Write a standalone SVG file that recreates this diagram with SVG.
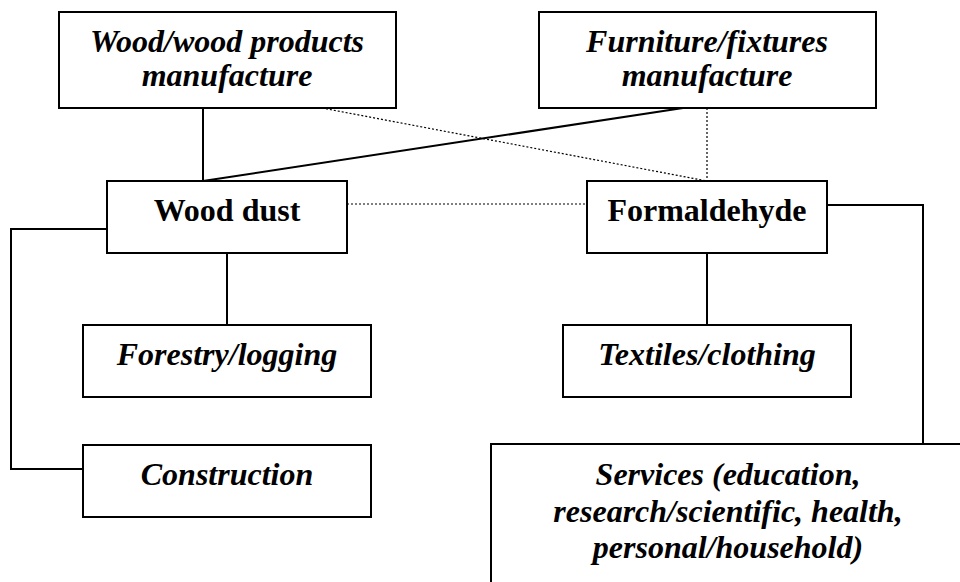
<svg xmlns="http://www.w3.org/2000/svg" width="960" height="582" viewBox="0 0 960 582">
<style>
.box{fill:#fff;stroke:#000;stroke-width:2}
.t{font-family:'Liberation Serif','Times New Roman',serif;font-size:32px;font-weight:bold;fill:#000;text-anchor:middle}
.i{font-style:italic}
.solid{fill:none;stroke:#000;stroke-width:2}
.dot{fill:none;stroke:#000;stroke-width:1.2;stroke-dasharray:2 2}
</style>
<rect width="960" height="582" fill="#fff"/>
<g id="connectors">
<line class="solid" x1="203" y1="108" x2="203" y2="181"/>
<line class="solid" x1="203" y1="181" x2="683" y2="108"/>
<line class="dot" x1="322" y1="108" x2="707" y2="181"/>
<line class="dot" x1="707" y1="108" x2="707" y2="181"/>
<line class="dot" x1="347" y1="204" x2="587" y2="204"/>
<polyline class="solid" points="827,205 923,205 923,444"/>
<polyline class="solid" points="107,229 11,229 11,469 83,469"/>
<line class="solid" x1="227" y1="253" x2="227" y2="325"/>
<line class="solid" x1="707" y1="253" x2="707" y2="325"/>
</g>
<g id="wood-products">
<rect class="box" x="59" y="12" width="337" height="96"/>
<text class="t i" x="227" y="52">Wood/wood products</text>
<text class="t i" x="227" y="86">manufacture</text>
</g>
<g id="furniture">
<rect class="box" x="539" y="12" width="337" height="96"/>
<text class="t i" x="707" y="52">Furniture/fixtures</text>
<text class="t i" x="707" y="86">manufacture</text>
</g>
<g id="wood-dust">
<rect class="box" x="107" y="181" width="240" height="72"/>
<text class="t" x="227" y="221">Wood dust</text>
</g>
<g id="formaldehyde">
<rect class="box" x="587" y="181" width="240" height="72"/>
<text class="t" x="707" y="221">Formaldehyde</text>
</g>
<g id="forestry">
<rect class="box" x="83" y="325" width="288" height="72"/>
<text class="t i" x="227" y="365">Forestry/logging</text>
</g>
<g id="textiles">
<rect class="box" x="563" y="325" width="288" height="72"/>
<text class="t i" x="707" y="365">Textiles/clothing</text>
</g>
<g id="construction">
<rect class="box" x="83" y="445" width="288" height="72"/>
<text class="t i" x="227" y="485">Construction</text>
</g>
<g id="services">
<rect class="box" x="491" y="444" width="500" height="200"/>
<text class="t i" x="728" y="485">Services (education,</text>
<text class="t i" x="728" y="522">research/scientific, health,</text>
<text class="t i" x="728" y="558">personal/household)</text>
</g>
</svg>
